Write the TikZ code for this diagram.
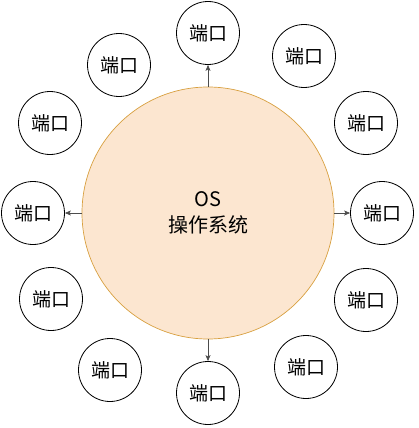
\documentclass[tikz,border=0pt]{standalone}
\usepackage{fontspec}
\setmainfont{Noto Sans CJK SC}
\usetikzlibrary{arrows.meta}
\definecolor{osfill}{HTML}{FCE6D0}
\definecolor{osdraw}{HTML}{D8A040}
\tikzset{
  port/.style={circle,draw=black,line width=0.8pt,fill=white,minimum size=63pt,inner sep=0pt,font=\fontsize{19}{21}\selectfont},
  osnode/.style={circle,draw=osdraw,line width=0.7pt,fill=osfill,minimum size=252pt,inner sep=0pt,align=center,font=\fontsize{20}{26}\selectfont},
  link/.style={draw=black!70,line width=0.6pt,-{Stealth[length=6pt,width=5pt,inset=1.5pt]}}
}
\begin{document}
\begin{tikzpicture}[x=1pt,y=-1pt]
\useasboundingbox (0,0) rectangle (418,428);
\node[osnode] (os) at (208,213) {OS\\操作系统};
\node[port] (pt) at (208,33) {端口};
\node[port] (pb) at (208,393) {端口};
\node[port] (pl) at (33,213) {端口};
\node[port] (pr) at (382,213) {端口};
\node[port] (p1) at (119,65) {端口};
\node[port] (p2) at (50,123) {端口};
\node[port] (p3) at (51,299) {端口};
\node[port] (p4) at (110,370) {端口};
\node[port] (p5) at (304,56) {端口};
\node[port] (p6) at (366,123) {端口};
\node[port] (p7) at (366,300) {端口};
\node[port] (p8) at (306,367) {端口};
\draw[link] (os) -- (pt);
\draw[link] (os) -- (pb);
\draw[link] (os) -- (pl);
\draw[link] (os) -- (pr);
\end{tikzpicture}
\end{document}
